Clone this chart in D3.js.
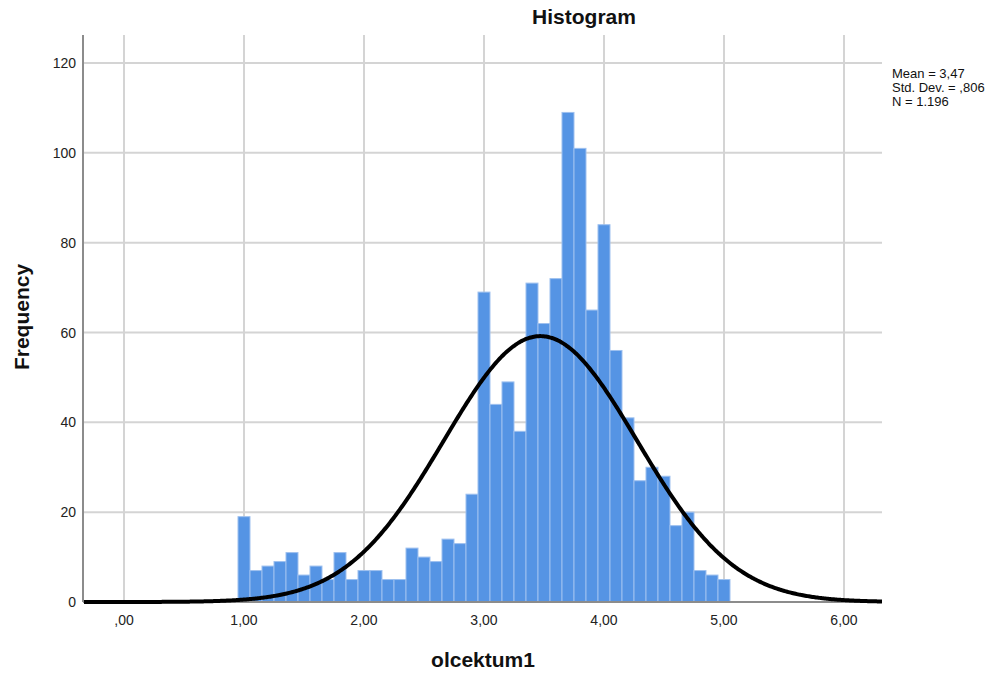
<!DOCTYPE html>
<html>
<head>
<meta charset="utf-8">
<script src="https://cdn.jsdelivr.net/npm/d3@7/dist/d3.min.js"></script>
<style>
  html, body { margin: 0; padding: 0; background: #fff; }
  svg { display: block; font-family: "Liberation Sans", Arial, sans-serif; }
</style>
</head>
<body>
<svg id="chart" width="1007" height="673"></svg>
<script>
// Bin centers (bin width 0.1) and frequencies
const binCenters = [1.0,1.1,1.2,1.3,1.4,1.5,1.6,1.7,1.8,1.9,2.0,2.1,2.2,2.3,2.4,2.5,2.6,2.7,2.8,2.9,
                    3.0,3.1,3.2,3.3,3.4,3.5,3.6,3.7,3.8,3.9,4.0,4.1,4.2,4.3,4.4,4.5,4.6,4.7,4.8,4.9,5.0];
const counts = [19,7,8,9,11,6,8,5,11,5,7,7,5,5,12,10,9,14,13,24,
                69,44,49,38,71,62,72,109,101,65,84,56,41,27,30,28,17,20,7,6,5];
const binWidth = 0.1;
const xTicks = [0,1,2,3,4,5,6];
const xTickLabels = [",00","1,00","2,00","3,00","4,00","5,00","6,00"];
const yTicks = [0,20,40,60,80,100,120];
const stats = { mean: 3.47, sd: 0.806, n: 1196 };
const statLines = ["Mean = 3,47", "Std. Dev. = ,806", "N = 1.196"];

(function () {
const svg = d3.select("#chart");
const pL = 84, pR = 882, pT = 35, pB = 602;

const x = d3.scaleLinear().domain([-0.3333, 6.3167]).range([pL, pR]);
const y = d3.scaleLinear().domain([0, 126.24]).range([pB, pT]);

// gridlines
const grid = svg.append("g");
grid.selectAll("line.h").data(yTicks.filter(d => d > 0)).enter().append("line")
  .attr("x1", pL).attr("x2", pR)
  .attr("y1", d => y(d)).attr("y2", d => y(d))
  .attr("stroke", "#d4d4d4").attr("stroke-width", 2);
grid.selectAll("line.v").data(xTicks).enter().append("line")
  .attr("x1", d => x(d)).attr("x2", d => x(d))
  .attr("y1", pT).attr("y2", pB)
  .attr("stroke", "#d4d4d4").attr("stroke-width", 2);

// bars
svg.append("g").selectAll("rect").data(binCenters).enter().append("rect")
  .attr("x", (d) => x(d - binWidth / 2))
  .attr("width", (d) => x(d + binWidth / 2) - x(d - binWidth / 2))
  .attr("y", (d, i) => y(counts[i]))
  .attr("height", (d, i) => y(0) - y(counts[i]))
  .attr("fill", "#5594e4")
  .attr("stroke", "#9ec0ef")
  .attr("stroke-width", 1);

// axes lines
svg.append("line").attr("x1", pL - 1).attr("x2", pL - 1).attr("y1", pT).attr("y2", pB)
  .attr("stroke", "#8c8c8c").attr("stroke-width", 2);
svg.append("line").attr("x1", pL - 1).attr("x2", pR).attr("y1", pB).attr("y2", pB)
  .attr("stroke", "#8c8c8c").attr("stroke-width", 2);

// normal curve
const curvePts = d3.range(-0.3333, 6.3167 + 0.001, 0.01).map(v => {
  const z = (v - stats.mean) / stats.sd;
  return [v, stats.n * binWidth * Math.exp(-0.5 * z * z) / (stats.sd * Math.sqrt(2 * Math.PI))];
});
svg.append("path").datum(curvePts)
  .attr("d", d3.line().x(d => x(d[0])).y(d => y(d[1])).curve(d3.curveMonotoneX))
  .attr("fill", "none").attr("stroke", "#000").attr("stroke-width", 4);

// tick labels
svg.append("g").selectAll("text").data(yTicks).enter().append("text")
  .attr("x", 76).attr("y", d => y(d) + 5)
  .attr("text-anchor", "end").attr("font-size", 14).attr("fill", "#222")
  .text(d => d);
svg.append("g").selectAll("text").data(xTicks).enter().append("text")
  .attr("x", d => x(d)).attr("y", 625)
  .attr("text-anchor", "middle").attr("font-size", 14).attr("fill", "#222")
  .text((d, i) => xTickLabels[i]);

// titles
svg.append("text").attr("x", 584).attr("y", 24).attr("text-anchor", "middle")
  .attr("font-size", 21).attr("font-weight", "bold").attr("fill", "#111").text("Histogram");
svg.append("text").attr("x", 483).attr("y", 667).attr("text-anchor", "middle")
  .attr("font-size", 21).attr("font-weight", "bold").attr("fill", "#111").text("olcektum1");
svg.append("text").attr("transform", "translate(29,317) rotate(-90)").attr("text-anchor", "middle")
  .attr("font-size", 21).attr("font-weight", "bold").attr("fill", "#111").text("Frequency");

// stats
svg.append("g").selectAll("text").data(statLines).enter().append("text")
  .attr("x", 892).attr("y", (d, i) => 78 + i * 14)
  .attr("font-size", 13).attr("fill", "#111").text(d => d);
})();
</script>
</body>
</html>
